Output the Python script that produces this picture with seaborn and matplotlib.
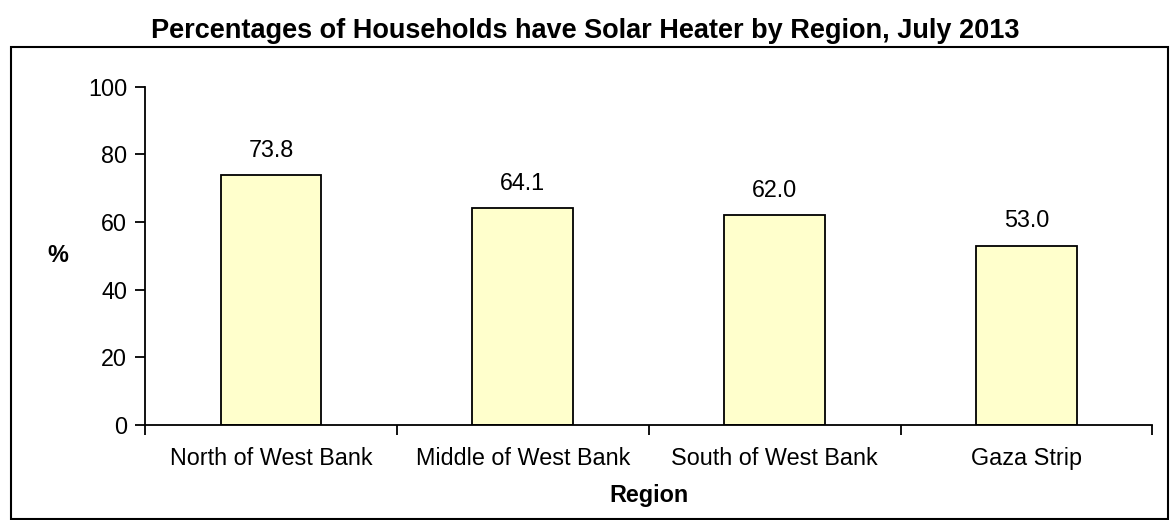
import matplotlib
matplotlib.use('Agg')
import matplotlib.pyplot as plt
import seaborn as sns
import pandas
from matplotlib.patches import Rectangle

regions = ['North of West Bank', 'Middle of West Bank', 'South of West Bank', 'Gaza Strip']
percentages = [73.8, 64.1, 62.0, 53.0]
yticks = [0, 20, 40, 60, 80, 100]

sns.set_theme(style='white')
plt.rcParams['font.family'] = ['Liberation Sans', 'DejaVu Sans']
plt.rcParams['text.color'] = 'black'
plt.rcParams['axes.labelcolor'] = 'black'

df = pandas.DataFrame({'region': regions, 'percent': percentages})

fig = plt.figure(figsize=(11.7, 5.2), dpi=100)
ax = fig.add_axes([0.124, 0.183, 0.861, 0.650])

sns.barplot(df, x='region', y='percent', order=regions, color='#FFFFCC',
            edgecolor='black', linewidth=1.3, width=0.4, saturation=1, ax=ax)

for i, v in enumerate(percentages):
    ax.text(i, v + 4, f'{v:.1f}', ha='center', va='bottom', fontsize=16.8, color='black')

ax.set_xlim(-0.5, len(regions) - 0.5)
ax.set_ylim(0, 100)
ax.set_yticks(yticks)
ax.tick_params(axis='y', direction='out', length=7, width=1.3, labelsize=16.8, pad=6, left=True, colors='black')
ax.tick_params(axis='x', which='major', length=0, labelsize=16.8, pad=16, colors='black')
ax.set_xticks([i - 0.5 for i in range(len(regions) + 1)], minor=True)
ax.tick_params(axis='x', which='minor', direction='out', length=7, width=1.3, bottom=True, colors='black')

for s in ['top', 'right']:
    ax.spines[s].set_visible(False)
for s in ['left', 'bottom']:
    ax.spines[s].set_color('black')
    ax.spines[s].set_linewidth(1.3)

ax.set_xlabel('Region', fontsize=16.8, fontweight='bold', labelpad=10)
ax.set_ylabel('%', fontsize=16.8, fontweight='bold', rotation=0, va='center', ha='center')
ax.yaxis.set_label_coords(-0.087, 0.5)

fig.text(0.5, 0.94, 'Percentages of Households have Solar Heater by Region, July 2013',
         ha='center', va='center', fontsize=19.5, fontweight='bold', color='black')

fig.patches.append(Rectangle((0.0094, 0.002), 0.989, 0.907, transform=fig.transFigure,
                             fill=False, edgecolor='black', linewidth=1.5))

fig.savefig('out.png', dpi=100)
